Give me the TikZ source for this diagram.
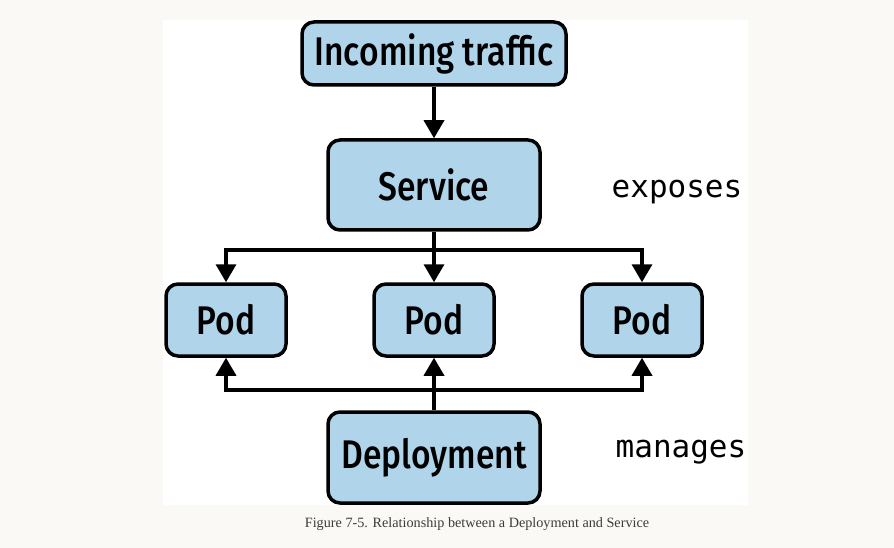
\documentclass[tikz,border=0pt]{standalone}
\usepackage{fontspec}
\usetikzlibrary{arrows.meta}
\newfontfamily\boxfont[FakeStretch=0.84]{Fira Sans Medium}
\newfontfamily\monofont{DejaVu Sans Mono}
\newfontfamily\capfont{Liberation Serif}
\definecolor{bgpage}{RGB}{250,249,246}
\definecolor{boxblue}{RGB}{176,212,234}
\definecolor{capgray}{RGB}{60,60,60}
\tikzset{
  kbox/.style={draw=black, line width=3.5pt, fill=boxblue, rounded corners=12pt,
    font=\boxfont\fontsize{40}{44}\selectfont, inner sep=0pt},
  conn/.style={line width=3.5pt, -{Triangle[length=18pt,width=20pt]}},
  plain/.style={line width=3.5pt},
  monolabel/.style={font=\monofont\fontsize{31}{34}\selectfont},
}
\begin{document}
\begin{tikzpicture}[x=1pt,y=-1pt]
\useasboundingbox (0,0) rectangle (894,548);
\fill[bgpage] (0,0) rectangle (894,548);
\fill[white] (163,20) rectangle (748,505);
\node[kbox, minimum width=264pt, minimum height=63pt] (inc) at (434,53.5) {Incoming traffic};
\node[kbox, minimum width=212pt, minimum height=90pt] (svc) at (434,185) {Service};
\node[kbox, minimum width=120pt, minimum height=72pt] (pod1) at (226,320) {Pod};
\node[kbox, minimum width=120pt, minimum height=72pt] (pod2) at (434,320) {Pod};
\node[kbox, minimum width=120pt, minimum height=72pt] (pod3) at (642,320) {Pod};
\node[kbox, minimum width=212pt, minimum height=91pt] (dep) at (434,457.5) {Deployment};
\coordinate (topbus) at (434,250);
\coordinate (botbus) at (434,390);
\draw[conn] (inc.south) -- (svc.north);
\draw[plain] (svc.south) -- (topbus);
\draw[conn] (topbus) -- (pod2.north);
\draw[conn] (topbus) -| (pod1.north);
\draw[conn] (topbus) -| (pod3.north);
\draw[conn] (dep.north) -- (pod2.south);
\draw[conn] (botbus) -| (pod1.south);
\draw[conn] (botbus) -| (pod3.south);
\node[monolabel] (exp) at (677,192) {exposes};
\node[monolabel] (man) at (681,452) {manages};
\node[font=\capfont\fontsize{14.2}{16}\selectfont, text=capgray] (cap) at (477,524) {Figure 7-5. Relationship between a Deployment and Service};
\end{tikzpicture}
\end{document}
